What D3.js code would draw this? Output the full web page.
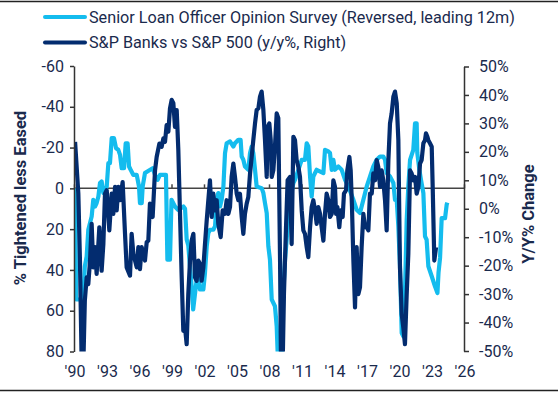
<!DOCTYPE html>
<html><head><meta charset="utf-8">
<script src="https://cdn.jsdelivr.net/npm/d3@7"></script>
<style>body{margin:0;background:#fff;} svg text{font-family:Roboto,"Noto Sans",sans-serif;fill:#1a2a4d;}</style>
</head><body><svg id="c" width="558" height="393"></svg>
<script>
// ---- data ----
const seriesNames = ["Senior Loan Officer Opinion Survey (Reversed, leading 12m)", "S&P Banks vs S&P 500 (y/y%, Right)"];
const xTickYears = [1990,1993,1996,1999,2002,2005,2008,2011,2014,2017,2020,2023,2026];
const xTickLabels = ["'90","'93","'96","'99","'02","'05","'08","'11","'14","'17","'20","'23","'26"];
const leftTicks = [-60,-40,-20,0,20,40,60,80];
const rightTicks = [50,40,30,20,10,0,-10,-20,-30,-40,-50];

const sloosYears = [1990.1,1990.2,1990.86,1991.0,1991.17,1991.32,1991.63,1991.78,1991.94,1992.09,1992.25,1992.4,1992.55,1992.71,1993.02,1993.17,1993.32,1993.48,1993.69,1993.88,1994.09,1994.25,1994.4,1994.62,1994.77,1994.95,1995.08,1995.23,1995.48,1995.79,1996.0,1996.09,1996.25,1996.34,1996.55,1996.77,1997.26,1997.48,1997.72,1997.94,1998.49,1998.62,1998.86,1999.0,1999.32,1999.6,2000.1,2000.25,2000.4,2000.55,2000.7,2000.86,2001.0,2001.32,2001.48,2001.63,2001.94,2002.09,2002.25,2002.4,2002.55,2002.86,2003.02,2003.17,2003.32,2003.48,2003.63,2003.79,2003.94,2004.09,2004.4,2004.71,2004.86,2005.17,2005.38,2005.48,2005.63,2005.78,2006.09,2006.25,2006.4,2006.55,2006.71,2006.86,2007.32,2007.48,2007.63,2007.79,2007.94,2008.09,2008.25,2008.55,2008.71,2008.8,2009.17,2009.32,2009.48,2009.63,2009.79,2009.94,2010.25,2010.4,2010.71,2011.02,2011.32,2011.48,2011.63,2011.79,2011.94,2012.09,2012.4,2013.02,2013.17,2013.48,2013.63,2013.79,2013.94,2014.09,2014.4,2014.71,2015.02,2015.32,2015.79,2016.09,2016.4,2016.71,2017.02,2017.32,2017.63,2017.94,2018.25,2018.55,2018.71,2018.86,2019.17,2019.48,2019.63,2019.79,2019.94,2020.09,2020.25,2020.4,2020.55,2020.71,2020.86,2021.02,2021.32,2021.48,2021.63,2021.69,2021.88,2022.03,2022.25,2022.4,2022.55,2022.71,2023.02,2023.32,2023.55,2023.65,2023.79,2023.94,2024.25,2024.4,2024.46];
const sloosValues = [0,54.5,54.5,38.2,33.3,20.3,13.8,5.6,8.9,7.2,4,-2.6,-3.4,2.3,-0.9,-12.4,-12.4,-24.6,-24.6,-19.7,-18.9,-16.4,-9.9,-9.9,-22.1,-22.1,-10.7,-9.1,-6.6,-6.6,-0.9,7.2,7.2,-0.9,-7.5,-8.3,-9.9,-6.6,-4.2,-6.6,-6.6,35,35,5.6,8.9,10.5,8.9,10,25,28,38,48,59.4,44.8,41.5,49.6,49.6,41.5,28.4,21.9,20.3,20.3,18.6,5.6,2.3,8.9,5.6,-0.9,-17.3,-22.1,-23,-20.5,-22.1,-23.8,-23.8,-15.6,-14,-10.7,-9.1,-17.3,-20.5,-17.3,-9.1,-0.9,-0.1,2.3,7.2,12.1,28.4,35,54.5,57.8,67.6,80.6,84,51.3,35,25.2,12.1,5.6,-2.6,-4.2,-9.1,-14,-14,-22.1,-20.5,-5.8,4,-5.8,-9.1,-7.5,-18.9,-18.1,-17.3,-9.1,-14,-9.1,-10.7,-9.1,-4.2,-0.9,5.6,10.5,12.1,5.6,-0.9,-5.8,-10.7,-14,-15.6,-15.6,-14,-7.5,-5.8,-2.6,5.6,5.6,18.6,38.2,70.9,72.5,51.3,15.4,-0.9,-14,-18.9,-31.9,-31.9,-17.3,-9.1,-4.2,2.3,23.5,25.2,38.2,43.1,48,51.3,41.1,34.1,14.6,14.6,8,7];

const banksYears = [1990.1,1990.4,1990.55,1990.71,1990.86,1991.0,1991.17,1991.32,1991.48,1991.63,1991.78,1991.94,1992.09,1992.34,1992.55,1992.71,1992.86,1993.02,1993.26,1993.48,1993.63,1993.79,1993.94,1994.09,1994.25,1994.49,1994.71,1994.86,1995.17,1995.32,1995.48,1995.79,1995.94,1996.09,1996.25,1996.55,1996.71,1996.86,1997.01,1997.26,1997.48,1997.63,1997.88,1998.09,1998.25,1998.4,1998.55,1998.71,1998.86,1999.02,1999.17,1999.32,1999.48,1999.63,1999.94,2000.09,2000.25,2000.4,2000.55,2000.71,2000.86,2001.02,2001.17,2001.32,2001.48,2001.63,2001.78,2001.94,2002.09,2002.25,2002.4,2002.55,2002.71,2002.86,2003.02,2003.17,2003.32,2003.54,2003.72,2003.94,2004.09,2004.25,2004.4,2004.55,2004.71,2004.86,2005.02,2005.17,2005.32,2005.48,2005.63,2005.78,2005.94,2006.09,2006.25,2006.4,2006.55,2006.71,2006.86,2007.02,2007.17,2007.32,2007.48,2007.63,2007.79,2007.88,2008.03,2008.16,2008.25,2008.4,2008.55,2008.71,2008.86,2009.02,2009.11,2009.26,2009.38,2009.57,2009.72,2009.94,2010.09,2010.25,2010.4,2010.55,2010.71,2010.86,2011.02,2011.17,2011.32,2011.48,2011.63,2011.79,2011.94,2012.09,2012.25,2012.4,2012.55,2012.71,2012.86,2013.02,2013.17,2013.32,2013.48,2013.63,2013.79,2013.94,2014.09,2014.19,2014.31,2014.49,2014.62,2014.8,2014.92,2015.11,2015.23,2015.42,2015.54,2015.66,2015.79,2015.94,2016.09,2016.25,2016.4,2016.55,2016.71,2016.86,2017.02,2017.17,2017.32,2017.48,2017.63,2017.79,2017.94,2018.09,2018.25,2018.4,2018.55,2018.71,2018.86,2019.02,2019.17,2019.32,2019.48,2019.63,2019.79,2019.94,2020.09,2020.25,2020.4,2020.55,2020.71,2020.86,2021.02,2021.17,2021.32,2021.48,2021.63,2021.79,2021.94,2022.09,2022.25,2022.4,2022.49,2022.62,2022.71,2022.86,2023.02,2023.11,2023.26,2023.42];
const banksValues = [23.5,5.3,-18.2,-55,-55,-32.3,-24.1,-26.5,-18.2,-5.3,-20.6,-13.5,-22.9,-6.5,-21.8,-12.4,5.3,6.5,-7.6,5.3,-1.8,7.7,-0.6,7.7,3,9.4,-8.8,-20.6,-23.5,-8.8,-15.9,-20.6,-13.5,-21.2,-13.5,-18.2,-11.8,-11.2,1.8,-2.9,13.5,18.2,22.9,21.8,24.7,23.5,29.4,27.1,35.3,38.3,37.1,28.8,34.7,20.6,-24.1,-42.9,-41.8,-47.6,-30,-18.2,-11.2,-8.8,-24.1,-25.3,-18.2,-19.4,-25.3,-20.6,-12.4,-4.1,3,10,-2.9,5.3,-0.6,3,-5.3,-10,-0.6,-1.8,3,-1.8,0.6,11.2,15.9,11.2,5.3,3,5.3,-2.9,-8.8,-1.8,1.8,4.1,12.4,18.2,24.1,30,34.7,35.3,39.4,41.2,34.7,24.1,11.2,28.8,30,24.1,11.2,13.5,21.8,33.5,31.8,-18.2,-55,-55,-30,-6.5,10,11.2,-12.4,25.3,24.1,17.1,14.7,11.2,-0.6,-7.6,-8.8,-13.5,-17,-6.5,0.6,3,-0.6,-5.3,0.6,-1.8,-6.5,-11.2,-1.8,5.3,3,-2.9,-1.8,10,7.7,-1.8,0.6,-6.5,-0.6,-2.9,5.3,6.5,13.5,18.2,13.5,0.6,-18.2,-34.7,-13.5,-30,-27.6,-13.5,-1.8,-6.5,-6.5,-7.6,5.3,5.3,12.4,10,17.1,14.7,7.7,13.5,10,3,-7.6,17.1,30,33.5,39.4,41.2,37.1,24.1,-20.6,-37.1,-41.8,-47.6,-30,-15.9,13.5,12.4,10,11.2,5.3,7.7,15.9,17.1,23,24.1,26.5,25.3,24.1,23,21.8,7.7,-18.2,-13.5];

// ---- chart ----
const svg = d3.select("#c");
const navy = "#1a2a4d", cyan = "#14bcee", dark = "#032c6f";
const x = d3.scaleLinear().domain([1990, 2026]).range([74, 464]);
const yL = d3.scaleLinear().domain([-60, 80]).range([66, 351.5]);
const yR = d3.scaleLinear().domain([50, -50]).range([66.5, 351]);

// frame lines
svg.append("line").attr("x1",0).attr("x2",558).attr("y1",1.5).attr("y2",1.5).attr("stroke","#222").attr("stroke-width",1.5);
svg.append("line").attr("x1",0).attr("x2",558).attr("y1",390.5).attr("y2",390.5).attr("stroke","#222").attr("stroke-width",1.5);

// legend
const leg = svg.append("g");
[[cyan,17],[dark,42.5]].forEach((d,i)=>{
  leg.append("line").attr("x1",45).attr("x2",85).attr("y1",d[1]).attr("y2",d[1])
    .attr("stroke",d[0]).attr("stroke-width",4).attr("stroke-linecap","round");
  leg.append("text").attr("x",89).attr("y",d[1]).attr("dy","0.36em")
    .style("font-size","16.2px").text(seriesNames[i]);
});

// clip
svg.append("clipPath").attr("id","clip").append("rect").attr("x",74).attr("y",66).attr("width",390).attr("height",285.5);

// zero line with x ticks
svg.append("line").attr("x1",74).attr("x2",464).attr("y1",yL(0)).attr("y2",yL(0)).attr("stroke","#444").attr("stroke-width",1.5);
const xAx = svg.append("g").attr("transform",`translate(0,${yL(0)})`)
  .call(d3.axisTop(x).tickValues(xTickYears).tickSize(4).tickFormat(""));
xAx.select(".domain").remove();
xAx.selectAll("line").attr("stroke","#444").attr("stroke-width",1.5);

// x labels
svg.append("g").selectAll("text").data(xTickYears).join("text")
  .attr("x",d=>x(d)+1).attr("y",377).attr("text-anchor","middle")
  .style("font-size","16px").text((d,i)=>xTickLabels[i]);

// series
const lineL = d3.line().x(d=>x(d[0])).y(d=>yL(d[1]));
const lineR = d3.line().x(d=>x(d[0])).y(d=>yR(d[1]));
const g = svg.append("g").attr("clip-path","url(#clip)");
g.append("path").datum(d3.zip(sloosYears, sloosValues)).attr("d",lineL)
  .attr("fill","none").attr("stroke",cyan).attr("stroke-width",4.2).attr("stroke-linejoin","round");
g.append("path").datum(d3.zip(banksYears, banksValues)).attr("d",lineR)
  .attr("fill","none").attr("stroke",dark).attr("stroke-width",4.2).attr("stroke-linejoin","round");

// left axis
const la = svg.append("g").attr("transform","translate(74,0)")
  .call(d3.axisLeft(yL).tickValues(leftTicks).tickSize(4).tickSizeOuter(0).tickPadding(6).tickFormat(d=>String(d)));
la.select(".domain").attr("stroke","#333").attr("stroke-width",1.5);
la.selectAll(".tick line").attr("stroke","#333").attr("stroke-width",1.5);
la.selectAll("text").style("font-size","16px").attr("fill",navy);

// right axis
const ra = svg.append("g").attr("transform","translate(464,0)")
  .call(d3.axisRight(yR).tickValues(rightTicks).tickSize(5).tickSizeOuter(0).tickPadding(10).tickFormat(d=>String(d)+"%"));
ra.select(".domain").attr("stroke","#333").attr("stroke-width",1.5);
ra.selectAll(".tick line").attr("stroke","#333").attr("stroke-width",1.5);
ra.selectAll("text").style("font-size","16px").attr("fill",navy);
svg.selectAll(".tick text").attr("font-family",null);

// axis titles
svg.append("text").attr("transform","translate(20,198) rotate(-90)").attr("text-anchor","middle")
  .attr("dy","0.35em").style("font-size","16.5px").style("font-weight","bold").text("% Tightened less Eased");
svg.append("text").attr("transform","translate(528,214) rotate(-90)").attr("text-anchor","middle")
  .attr("dy","0.35em").style("font-size","16.5px").style("font-weight","bold").text("Y/Y% Change");
</script></body></html>
